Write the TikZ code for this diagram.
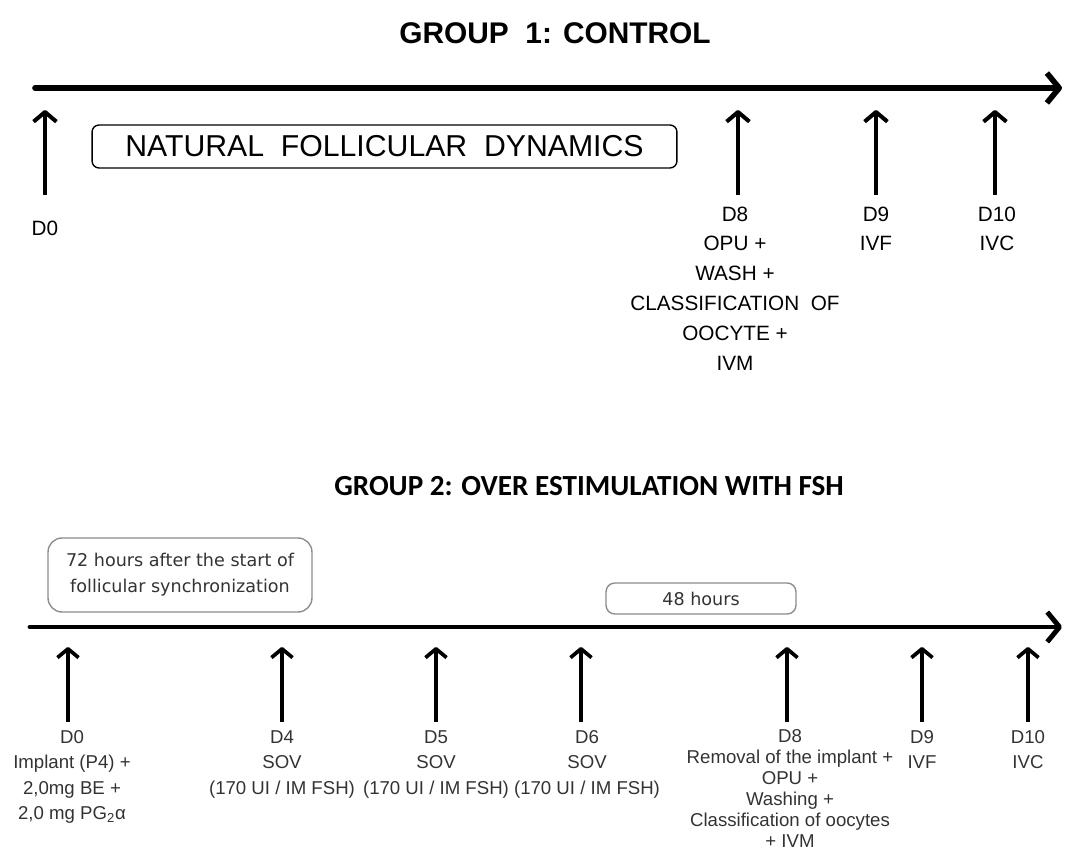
\documentclass[tikz,border=0pt]{standalone}
\usepackage{fontspec}
\setmainfont{Liberation Sans}
\newfontfamily\titlefont{Carlito}
\newfontfamily\boxfont{DejaVu Sans}
\usetikzlibrary{arrows.meta, positioning}
\newcommand{\daytop}{\rule{0pt}{9.5pt}}

\begin{document}
\begin{tikzpicture}[
    x=0.02cm, y=-0.02cm,
    timeline/.style={line width=3.2pt, line cap=round, -{Straight Barb[length=7pt, width=17pt, line join=round]}},
    event/.style={line width=2.3pt, -{Straight Barb[length=5.5pt, width=13pt, line join=round]}},
    eventtwo/.style={line width=2.1pt, -{Straight Barb[length=5pt, width=12pt, line join=round]}},
    period/.style={draw, rounded corners=4pt, thick, minimum height=0.86cm, inner sep=0pt},
    periodtwo/.style={draw=black!45, rounded corners=8pt, thick, inner sep=0pt, align=center, text=black!80, font=\boxfont\fontsize{10}{14.7}\selectfont},
    daylabel/.style={inner sep=0pt, align=center, anchor=north, font=\fontsize{11.8}{17}\selectfont},
    daylabeltwo/.style={inner sep=0pt, align=center, anchor=north, text=black!80, font=\fontsize{10.6}{14.6}\selectfont}
]
    \useasboundingbox (0,0) rectangle (1065,854);

    % Group 1
    \node[font=\bfseries\fontsize{17}{20}\selectfont] (title1) at (555,33) {GROUP\ \ 1: CONTROL};
    \coordinate (start1) at (35,88);
    \coordinate (end1) at (1062,88);
    \draw[timeline] (start1) -- (end1);

    \node[period, minimum width=11.7cm, font=\fontsize{17.2}{19}\selectfont] (natural) at (384.5,146.5) {NATURAL\ \ FOLLICULAR\ \ DYNAMICS};

    \coordinate (g1d0) at (45,195);
    \coordinate (g1d0top) at (45,110);
    \coordinate (g1d8) at (738,195);
    \coordinate (g1d8top) at (738,110);
    \coordinate (g1d9) at (876,195);
    \coordinate (g1d9top) at (876,110);
    \coordinate (g1d10) at (995,195);
    \coordinate (g1d10top) at (995,110);
    \draw[event] (g1d0) -- (g1d0top);
    \draw[event] (g1d8) -- (g1d8top);
    \draw[event] (g1d9) -- (g1d9top);
    \draw[event] (g1d10) -- (g1d10top);

    \node[daylabel] (lab1d0) at (45,218) {\daytop D0};
    \node[daylabel] (lab1d8) at (735,204) {\daytop D8\\OPU +\\WASH +\\CLASSIFICATION\ \ OF\\OOCYTE +\\IVM};
    \node[daylabel] (lab1d9) at (876,204) {\daytop D9\\IVF};
    \node[daylabel] (lab1d10) at (997,204) {\daytop D10\\IVC};

    % Group 2
    \node[font=\titlefont\bfseries\fontsize{16.6}{18}\selectfont] (title2) at (589,486) {GROUP 2: OVER ESTIMULATION WITH FSH};
    \coordinate (start2) at (30,627);
    \coordinate (end2) at (1062,627);
    \draw[timeline, line width=2.8pt] (start2) -- (end2);

    \node[periodtwo, minimum width=5.28cm, minimum height=1.48cm] (synchro) at (180,575) {72 hours after the start of\\follicular synchronization};
    \node[periodtwo, rounded corners=5pt, minimum width=3.8cm, minimum height=0.62cm] (hours48) at (701,598.5) {48 hours};

    \coordinate (g2d0) at (68,722);
    \coordinate (g2d0top) at (68,647);
    \coordinate (g2d4) at (282,722);
    \coordinate (g2d4top) at (282,647);
    \coordinate (g2d5) at (436,722);
    \coordinate (g2d5top) at (436,647);
    \coordinate (g2d6) at (581,722);
    \coordinate (g2d6top) at (581,647);
    \coordinate (g2d8) at (787,722);
    \coordinate (g2d8top) at (787,647);
    \coordinate (g2d9) at (922,722);
    \coordinate (g2d9top) at (922,647);
    \coordinate (g2d10) at (1028,722);
    \coordinate (g2d10top) at (1028,647);
    \draw[eventtwo] (g2d0) -- (g2d0top);
    \draw[eventtwo] (g2d4) -- (g2d4top);
    \draw[eventtwo] (g2d5) -- (g2d5top);
    \draw[eventtwo] (g2d6) -- (g2d6top);
    \draw[eventtwo] (g2d8) -- (g2d8top);
    \draw[eventtwo] (g2d9) -- (g2d9top);
    \draw[eventtwo] (g2d10) -- (g2d10top);

    \node[daylabeltwo] (lab2d0) at (72,726) {\daytop D0\\Implant (P4) +\\2,0mg BE +\\2,0 mg PG\textsubscript{2}α};
    \node[daylabeltwo] (lab2d4) at (282,726) {\daytop D4\\SOV\\(170 UI / IM FSH)};
    \node[daylabeltwo] (lab2d5) at (436,726) {\daytop D5\\SOV\\(170 UI / IM FSH)};
    \node[daylabeltwo] (lab2d6) at (587,726) {\daytop D6\\SOV\\(170 UI / IM FSH)};
    \node[daylabeltwo, font=\fontsize{10.6}{12}\selectfont] (lab2d8) at (790,725) {\daytop D8\\Removal of the implant +\\OPU +\\Washing +\\Classification of oocytes\\+ IVM};
    \node[daylabeltwo] (lab2d9) at (922,726) {\daytop D9\\IVF};
    \node[daylabeltwo] (lab2d10) at (1028,726) {\daytop D10\\IVC};
\end{tikzpicture}
\end{document}
